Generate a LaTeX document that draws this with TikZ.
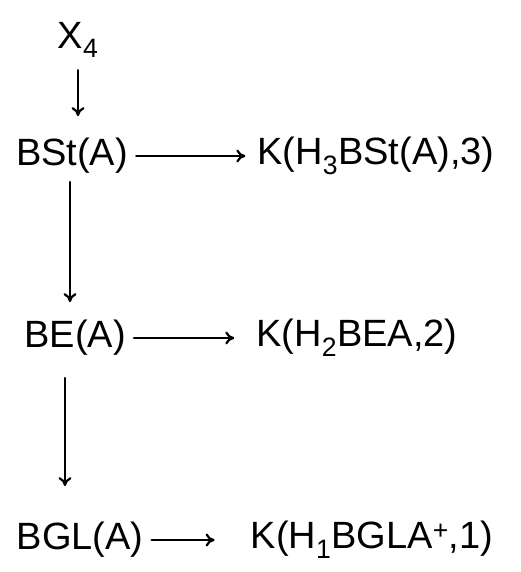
\documentclass[tikz,border=0pt]{standalone}
\usepackage{fontspec}
\setmainfont{Liberation Sans}
\usetikzlibrary{arrows.meta}
\begin{document}
\begin{tikzpicture}[x=1pt,y=-1pt,line cap=round,line join=round,
    obj/.style={inner sep=0pt,font=\fontsize{38}{44}\selectfont},
    cdarrow/.style={->,line width=2.2pt,>={To[length=9pt,width=13pt]}}]
  \useasboundingbox[fill=white] (0,0) rectangle (520,572);
  % objects
  \node[obj] (xfour) at (78,40) {X\textsubscript{4}};
  \node[obj] (bst) at (72,156) {BSt(A)};
  \node[obj] (kst) at (376,156) {K(H\textsubscript{3}BSt(A),3)};
  \node[obj] (be) at (75,338) {BE(A)};
  \node[obj] (kbe) at (357,338) {K(H\textsubscript{2}BEA,2)};
  \node[obj] (bgl) at (80,540) {BGL(A)};
  \node[obj] (kgl) at (372,540) {K(H\textsubscript{1}BGLA\textsuperscript{+},1)};
  % maps
  \draw[cdarrow,shorten <=12pt,shorten >=22pt] (xfour) -- (xfour|-bst.north);
  \draw[cdarrow,shorten <=8pt,shorten >=12pt] (bst.east) -- (kst.west);
  \draw[cdarrow,shorten <=8pt,shorten >=18pt] ([xshift=-2pt]bst.south) -- ([xshift=-2pt]bst.south|-be.north);
  \draw[cdarrow,shorten <=8pt,shorten >=22pt] (be.east) -- (kbe.west);
  \draw[cdarrow,shorten <=22pt,shorten >=36pt] ([xshift=-10pt]be.south) -- ([xshift=-10pt]be.south|-bgl.north);
  \draw[cdarrow,shorten <=8pt,shorten >=36pt] (bgl.east) -- (kgl.west);
\end{tikzpicture}
\end{document}
